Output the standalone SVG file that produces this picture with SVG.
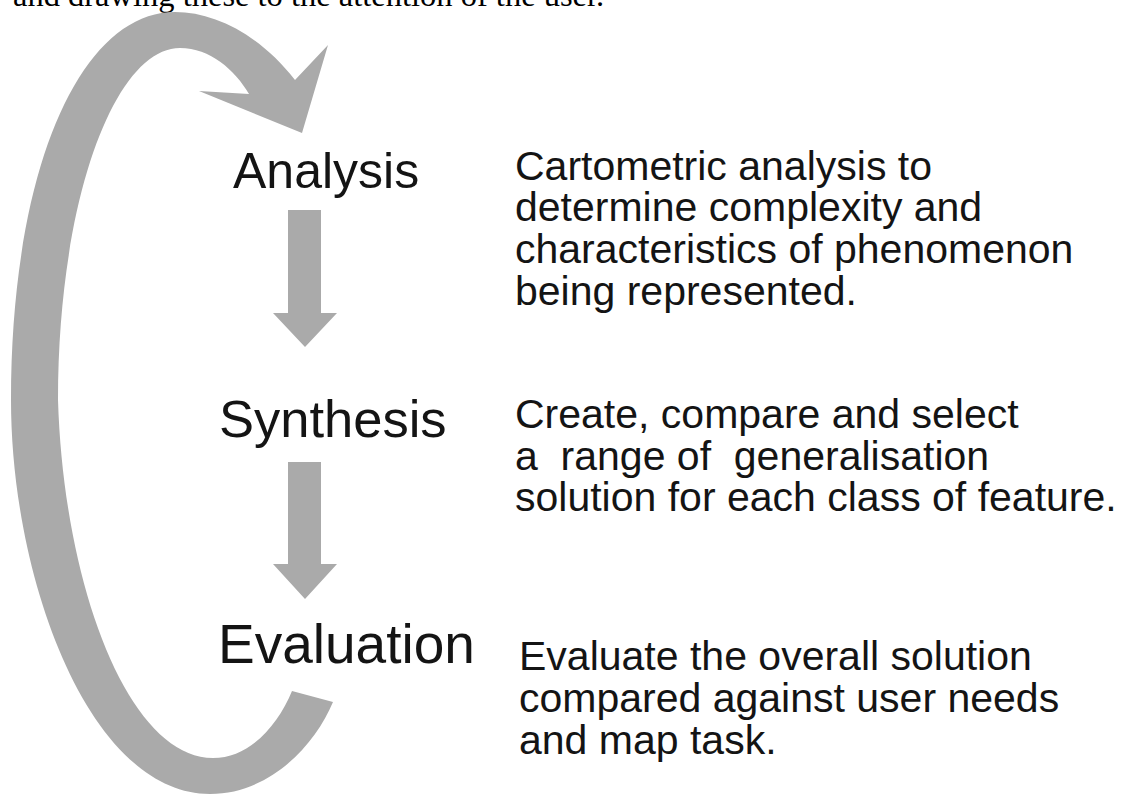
<svg xmlns="http://www.w3.org/2000/svg" width="1127" height="796" viewBox="0 0 1127 796">
<style>
.bg{fill:#ffffff}
.arrow{fill:#aaaaaa;stroke:none}
.head{font-family:"Liberation Serif","Times New Roman",serif;font-size:32.5px;fill:#000}
.label{font-family:"Liberation Sans",Arial,sans-serif;fill:#141414}
.desc{font-family:"Liberation Sans",Arial,sans-serif;font-size:41px;fill:#141414;white-space:pre}
</style>
<rect class="bg" x="0" y="0" width="1127" height="796"/>
<text class="head" x="13" y="6">and drawing these to the attention of the user.</text>
<g id="connectors">
<path id="loop" class="arrow" d="M 295,80 C 260,35 215,12 175,12 C 80,12 11,170 11,400 C 11,580 90,794 210,794 C 270,794 315,745 333,702 L 292,691 C 278,725 250,758 213,758 C 130,758 64,590 58,400 C 58,200 115,48 180,48 C 210,48 235,70 249,94 L 199,91 L 302,133 L 328,45 Z"/>
<polygon id="a1" class="arrow" points="288,210 321,210 321,313 337,313 305,347 273,313 288,313"/>
<polygon id="a2" class="arrow" points="288,462 321,462 321,564 337,564 305,599 273,564 288,564"/>
</g>
<g id="analysis">
<text class="label" x="233" y="188" font-size="50">Analysis</text>
<text class="desc">
<tspan x="515" y="179.5">Cartometric analysis to</tspan>
<tspan x="515" y="221">determine complexity and</tspan>
<tspan x="515" y="263">characteristics of phenomenon</tspan>
<tspan x="515" y="305">being represented.</tspan>
</text>
</g>
<g id="synthesis">
<text class="label" x="219" y="437" font-size="52.5">Synthesis</text>
<text class="desc"><tspan x="515" y="428">Create, compare and select</tspan><tspan x="515" y="469.5">a  range of  generalisation</tspan><tspan x="515" y="511">solution for each class of feature.</tspan></text>
</g>
<g id="evaluation">
<text class="label" x="218" y="663" font-size="55">Evaluation</text>
<text class="desc" font-size="43"><tspan x="519" y="669.5">Evaluate the overall solution</tspan><tspan x="519" y="711.5">compared against user needs</tspan><tspan x="519" y="753.5">and map task.</tspan></text>
</g>
</svg>
